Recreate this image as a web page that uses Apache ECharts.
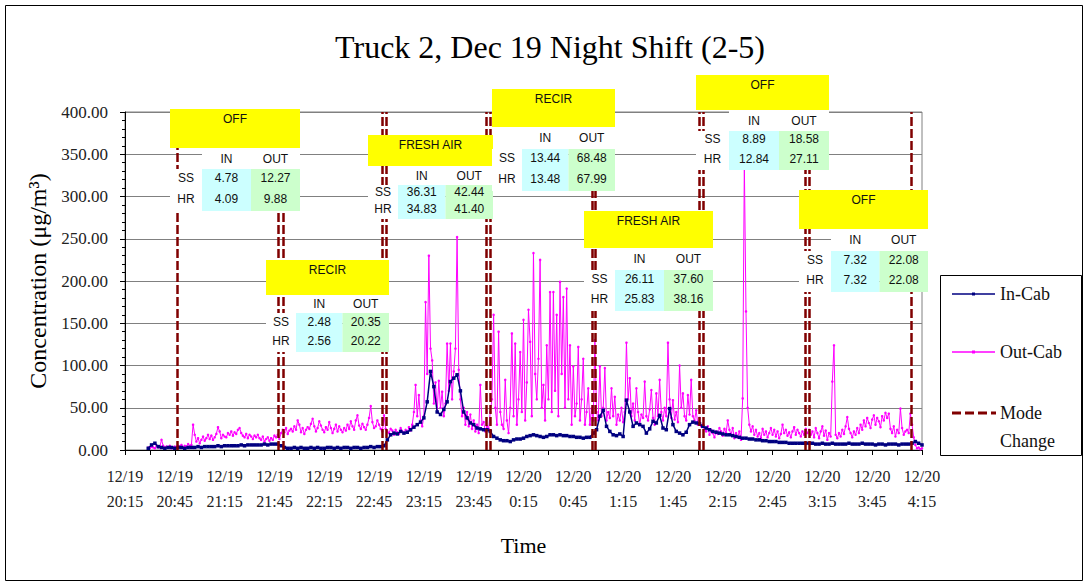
<!DOCTYPE html>
<html><head><meta charset="utf-8">
<script src="https://cdn.jsdelivr.net/npm/echarts/dist/echarts.min.js"></script>
<style>html,body{margin:0;padding:0;background:#fff}#c{width:1088px;height:586px}</style>
</head><body><div id="c"></div>
<script>
// ---- data ----
// x: minutes after 12/19 20:15
const xTickLabels = ['12/19\n20:15','12/19\n20:45','12/19\n21:15','12/19\n21:45','12/19\n22:15','12/19\n22:45','12/19\n23:15','12/19\n23:45','12/20\n0:15','12/20\n0:45','12/20\n1:15','12/20\n1:45','12/20\n2:15','12/20\n2:45','12/20\n3:15','12/20\n3:45','12/20\n4:15'];
const startMinute = 14;
const outCabStep = 1;   // minutes between Out-Cab readings
const inCabStep = 2;    // minutes between plotted In-Cab readings
const outCab = [
 3,2,4,3,2,5,3,
 4,12,5,3,4,3,5,2,3,4,
 3,5,4,6,3,5,4,7,5,6,
 30,18,10,14,8,12,16,11,14,18,
 13,17,12,15,19,27,22,14,18,16,
 15,20,18,22,17,21,19,24,26,20,
 17,15,19,14,18,16,13,17,15,18,
 14,12,16,10,13,15,11,14,12,17,
 15,18,13,20,24,21,26,19,23,25,
 22,28,24,35,30,21,26,19,24,27,
 25,31,37,28,22,26,34,29,24,21,
 27,24,33,26,20,25,30,22,28,24,
 21,26,23,30,25,34,28,24,35,41,
 29,25,31,27,24,30,38,52,33,26,
 28,35,30,25,22,41,25,22,20,25,
 23,18,24,21,19,26,22,20,24,21,
 27,23,30,45,77,40,65,35,28,40,
 175,90,230,120,106,55,80,45,82,50,
 69,40,55,126,70,126,60,93,120,252,
 95,60,40,50,30,45,28,42,25,35,
 22,30,20,77,30,33,22,28,25,45,
 60,160,50,30,140,45,30,25,83,35,
 20,50,138,40,126,30,60,116,45,154,
 35,80,166,128,40,233,90,60,108,225,
 50,77,35,124,60,187,45,187,70,160,
 40,199,90,181,50,191,60,124,30,99,
 40,55,122,35,60,108,30,45,73,30,
 49,35,130,45,35,99,40,50,97,35,
 45,38,73,40,63,30,42,35,50,33,
 45,127,60,85,40,55,35,73,45,30,
 42,38,81,40,35,48,71,38,30,67,
 40,83,45,35,50,40,127,60,38,59,
 36,45,33,100,50,67,40,35,65,42,
 83,40,35,47,30,38,28,30,25,22,
 28,18,24,20,15,22,19,26,22,17,
 25,20,35,24,18,26,14,20,15,22,
 12,61,340,164,50,30,22,28,18,24,
 16,20,14,25,18,22,15,20,26,18,
 24,16,22,14,19,30,20,24,17,21,
 15,22,27,18,24,20,16,22,18,25,
 20,24,18,22,15,26,20,14,22,28,
 17,23,12,20,16,81,124,18,14,20,
 16,24,19,28,39,25,20,15,22,18,
 26,20,30,24,35,28,38,32,26,36,
 41,30,38,34,27,40,35,44,38,43,
 25,20,28,16,24,20,49,26,18,22,
 24,20,43,30,15,6,2,3,1,2
];
const inCab = [
 2,6,8,4,3,2,3,3,2,3,
 3,2,3,3,3,4,3,4,4,4,
 4,5,4,5,5,5,5,5,6,5,
 6,6,6,6,6,7,6,7,7,7,
 5,3,2,2,3,2,3,2,2,3,
 2,3,2,2,3,3,2,3,2,3,
 3,2,3,3,2,3,3,4,3,4,
 4,5,12,18,20,19,22,20,21,24,
 27,30,33,38,57,93,75,45,42,48,
 57,81,85,89,70,45,38,32,30,26,
 25,24,24,22,16,14,12,11,11,10,
 12,13,13,14,16,17,18,17,16,15,
 16,18,18,17,18,17,17,16,16,15,
 15,14,15,15,20,24,40,47,28,22,
 18,17,19,16,59,45,28,32,30,28,
 20,25,34,32,41,26,24,49,30,22,
 20,18,21,30,33,32,31,28,26,24,
 22,21,20,19,18,18,17,16,15,14,
 14,13,13,12,12,11,11,10,10,10,
 9,9,9,8,8,8,8,8,8,8,
 8,7,7,8,7,7,8,7,7,7,
 7,8,7,7,7,8,7,7,7,6,
 7,7,6,7,7,7,6,7,7,7,
 8,10,8,6
];
const modeChanges = [31.3, 92.1, 95.3, 155.2, 157.4, 217.7, 219.7, 281.7, 283.5, 346, 348.2, 409.4, 411.8, 473.7];
// summary tables
const modes = ['OFF','RECIR','FRESH AIR','RECIR','FRESH AIR','OFF','OFF'];
const ssIn  = ['4.78','2.48','36.31','13.44','26.11','8.89','7.32'];
const ssOut = ['12.27','20.35','42.44','68.48','37.60','18.58','22.08'];
const hrIn  = ['4.09','2.56','34.83','13.48','25.83','12.84','7.32'];
const hrOut = ['9.88','20.22','41.40','67.99','38.16','27.11','22.08'];

// ---- layout (pixels) ----
const SERIF = '"Liberation Serif","Times New Roman",serif';
const SANS = '"Liberation Sans",Arial,sans-serif';
// [yellowLeft, yellowTop, right, yellowBottom, cellLeft, ssTop, hrTop, hrBottom]
const boxes = [
 [170,109,300,148,202,169,190,211],
 [266,260,389,295,296,313,333,352],
 [368,135,493,166,398,185,202,219],
 [492,89,615,127,522,149,170,191],
 [584,211,713,248,615,270,290,311],
 [696,75,829,110,729,131,150,170],
 [799,190,928,229,831,251,271,292]
];
const g = [];
function txt(x,y,s,font,align,z){ return {type:'text', x:x, y:y, z:z||102, style:{text:s, font:font, fill:'#111', align:align||'center', verticalAlign:'middle'}}; }
boxes.forEach((b,i)=>{
  const [x0,y0,x1,y1,cx,r1,r2,r3] = b; const cw=(x1-cx)/2;
  g.push({type:'rect', z:100, shape:{x:x0,y:y0,width:x1-x0,height:y1-y0}, style:{fill:'#FFFF00'}});
  g.push(txt((x0+x1)/2, y0+10, modes[i], '12px '+SANS));
  g.push({type:'rect', z:100, shape:{x:cx,y:y1,width:x1-cx,height:r1-y1}, style:{fill:'#fff'}});
  g.push({type:'rect', z:100, shape:{x:x0,y:r1,width:cx-x0,height:r3-r1}, style:{fill:'#fff'}});
  g.push({type:'rect', z:100, shape:{x:cx,y:r1,width:cw,height:r3-r1}, style:{fill:'#CCFFFF'}});
  g.push({type:'rect', z:100, shape:{x:cx+cw,y:r1,width:x1-cx-cw,height:r3-r1}, style:{fill:'#CCFFCC'}});
  const hy=(y1+r1)/2, sy=(r1+r2)/2-1.5, ry=(r2+r3)/2-1.5;
  g.push(txt(cx+cw/2, hy, 'IN', '12px '+SANS));
  g.push(txt(cx+1.5*cw, hy, 'OUT', '12px '+SANS));
  g.push(txt((x0+cx)/2, sy, 'SS', '12px '+SANS));
  g.push(txt((x0+cx)/2, ry, 'HR', '12px '+SANS));
  g.push(txt(cx+cw/2, sy, ssIn[i], '12px '+SANS));
  g.push(txt(cx+1.5*cw, sy, ssOut[i], '12px '+SANS));
  g.push(txt(cx+cw/2, ry, hrIn[i], '12px '+SANS));
  g.push(txt(cx+1.5*cw, ry, hrOut[i], '12px '+SANS));
});
// title
g.push({type:'text', x:550, y:47, z:102, style:{text:'Truck 2, Dec 19 Night Shift (2-5)', font:'32px '+SERIF, fill:'#000', align:'center', verticalAlign:'middle'}});
// legend
g.push({type:'rect', z:100, shape:{x:940.5,y:275.5,width:141,height:180}, style:{fill:'#fff', stroke:'#000', lineWidth:1}});
g.push({type:'line', z:101, shape:{x1:952,y1:294,x2:995,y2:294}, style:{stroke:'#000080', lineWidth:1.5}});
g.push({type:'rect', z:101, shape:{x:972,y:292.5,width:3,height:3}, style:{fill:'#000080'}});
g.push(txt(1000,294,'In-Cab','18px '+SERIF,'left'));
g.push({type:'line', z:101, shape:{x1:952,y1:352,x2:995,y2:352}, style:{stroke:'#FF00FF', lineWidth:1.5}});
g.push({type:'rect', z:101, shape:{x:972,y:350.5,width:3,height:3}, style:{fill:'#FF00FF'}});
g.push(txt(1000,352,'Out-Cab','18px '+SERIF,'left'));
g.push({type:'line', z:101, shape:{x1:952,y1:413,x2:996,y2:413}, style:{stroke:'#800000', lineWidth:3, lineDash:[9,4]}});
g.push(txt(1000,413,'Mode','18px '+SERIF,'left'));
g.push(txt(1000,441,'Change','18px '+SERIF,'left'));
// outer border
g.push({type:'rect', z:99, shape:{x:5.5,y:5.5,width:1077,height:575}, style:{fill:'none', stroke:'#000', lineWidth:1}});

const chart = echarts.init(document.getElementById('c'), null, {renderer:'svg'});
chart.setOption({
  animation:false,
  backgroundColor:'#fff',
  grid:{left:125, right:166, top:112, bottom:136, show:true, borderColor:'#808080', borderWidth:1},
  xAxis:{type:'value', min:0, max:480, interval:15,
    axisLabel:{formatter:v => (v%30===0 ? xTickLabels[v/30] : ''), fontFamily:SERIF, fontSize:16, lineHeight:25, color:'#222', margin:14, showMinLabel:true, showMaxLabel:true, hideOverlap:false},
    axisLine:{onZero:false, lineStyle:{color:'#000'}},
    axisTick:{length:5, lineStyle:{color:'#000'}},
    splitLine:{show:false},
    name:'Time', nameLocation:'middle', nameGap:84, nameTextStyle:{fontFamily:SERIF, fontSize:22, color:'#000'}},
  yAxis:{type:'value', min:0, max:400, interval:50,
    axisLabel:{formatter:v => v.toFixed(2), fontFamily:SERIF, fontSize:17, color:'#222', margin:17},
    axisLine:{show:true, lineStyle:{color:'#000'}},
    axisTick:{show:true, length:5, lineStyle:{color:'#000'}},
    minorTick:{show:true, splitNumber:5, length:3, lineStyle:{color:'#000'}},
    splitLine:{lineStyle:{color:'#808080', width:1}},
    name:'Concentration (μg/m³)', nameLocation:'middle', nameGap:71, nameTextStyle:{fontFamily:SERIF, fontSize:24, color:'#000'}},
  series:[
    {name:'Out-Cab', type:'line', z:2, data: outCab.map((v,i)=>[startMinute+i*outCabStep, v]),
      lineStyle:{color:'#FF00FF', width:1}, itemStyle:{color:'#FF00FF'}, symbol:'circle', symbolSize:2.5, showSymbol:true, showAllSymbol:true},
    {name:'In-Cab', type:'line', z:3, data: inCab.map((v,i)=>[startMinute+i*inCabStep, v]),
      lineStyle:{color:'#000080', width:1.5}, itemStyle:{color:'#000080'}, symbol:'rect', symbolSize:3.5, showSymbol:true, showAllSymbol:true},
    {name:'Mode Change', type:'line', z:5, data:[],
      markLine:{silent:true, symbol:['none','none'], label:{show:false}, lineStyle:{color:'#800000', type:[9,3], width:2.5},
        data: modeChanges.map(m=>({xAxis:m}))}}
  ],
  graphic: g
});
</script>
</body></html>
